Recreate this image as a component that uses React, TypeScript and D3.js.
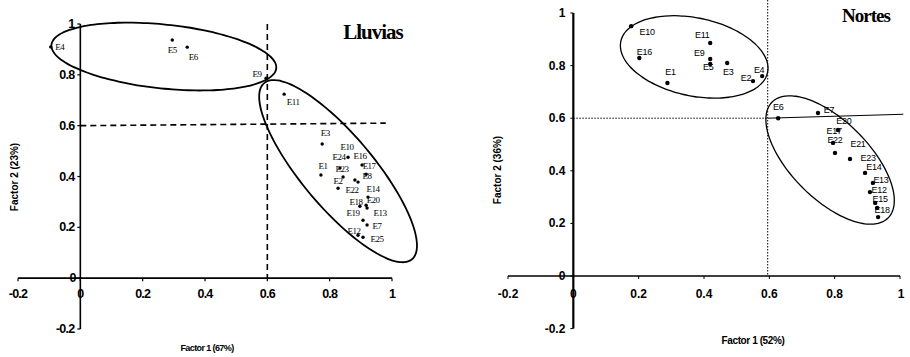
import React from "react";
import * as d3 from "d3";

// ---------- DATA ----------
const tickValues = [-0.2, 0, 0.2, 0.4, 0.6, 0.8, 1];
const leftTickLabels = ["-0.2", "0", "0.2", "0.4", "0.6", "0.8", "1"];
const rightTickLabels = ["-0.2", "0", "0.2", "0.4", "0.6", "0.8", "1"];

// Lluvias
const lluviasNames = ["E4", "E5", "E6", "E9", "E11", "E3", "E1", "E10", "E16", "E17", "E24", "E23", "E8", "E22", "E2", "E14", "E20", "E18", "E13", "E19", "E7", "E12", "E25"];
const lluviasF1 = [-0.095, 0.295, 0.343, 0.596, 0.654, 0.776, 0.772, 0.859, 0.904, 0.917, 0.833, 0.843, 0.881, 0.891, 0.827, 0.923, 0.917, 0.897, 0.92, 0.907, 0.92, 0.891, 0.907];
const lluviasF2 = [0.91, 0.937, 0.909, 0.787, 0.724, 0.528, 0.406, 0.476, 0.445, 0.409, 0.433, 0.398, 0.386, 0.378, 0.354, 0.319, 0.287, 0.283, 0.276, 0.228, 0.209, 0.169, 0.161];

// Nortes
const nortesNames = ["E10", "E16", "E1", "E11", "E9", "E5", "E3", "E2", "E4", "E6", "E7", "E20", "E17", "E22", "E21", "E23", "E14", "E13", "E12", "E15", "E18"];
const nortesF1 = [0.177, 0.202, 0.288, 0.419, 0.419, 0.419, 0.471, 0.55, 0.578, 0.627, 0.749, 0.81, 0.795, 0.801, 0.847, 0.893, 0.917, 0.908, 0.924, 0.93, 0.933];
const nortesF2 = [0.95, 0.829, 0.734, 0.886, 0.825, 0.806, 0.81, 0.741, 0.76, 0.6, 0.62, 0.555, 0.506, 0.468, 0.445, 0.392, 0.354, 0.319, 0.278, 0.259, 0.224];

// group ellipses (center in factor units)
const lluviasGroupCx = [0.268, 0.827];
const lluviasGroupCy = [0.872, 0.421];
const nortesGroupCx = [0.37, 0.786];
const nortesGroupCy = [0.833, 0.441];

// ---------- STYLE / LAYOUT ----------
const lluviasLabelOffsets: [number, number][] = [
  [9, 0], [0, 10], [6, 10], [-9, -4], [9, 8], [3, -11], [2, -9], [-1, -10], [-2, -9], [3, -8], [-1, -11], [-1, -8], [12, -4], [-6, 8], [0, -7], [5, -8], [7, -5], [-4, -4], [13, 5], [-10, -7], [10, 1], [-4, -4], [14, 2],
];
const nortesLabelOffsets: [number, number][] = [
  [16, 6], [5, -6], [3, -11], [-8, -8], [-11, -6], [-2, 3], [1, 9], [-7, -3], [-3, -6], [0, -11], [11, -3], [6, -9], [1, -12], [0, -13], [8, -15], [3, -15], [1, -16], [11, -12], [4, -13], [3, -9], [4, -7],
];
const lluviasEllipseShape = [
  { a: 113, b: 32, angle: 6 },
  { a: 115, b: 36, angle: 50 },
];
const nortesEllipseShape = [
  { a: 75, b: 39, angle: 12 },
  { a: 82, b: 39, angle: 45 },
];

function ellipsePath(cx: number, cy: number, a: number, b: number, angleDeg: number) {
  const t = (angleDeg * Math.PI) / 180;
  const pts: [number, number][] = d3.range(0, 361, 4).map((deg) => {
    const u = (deg * Math.PI) / 180;
    const x = a * Math.cos(u);
    const y = b * Math.sin(u);
    return [cx + x * Math.cos(t) - y * Math.sin(t), cy + x * Math.sin(t) + y * Math.cos(t)];
  });
  return d3.line().curve(d3.curveCardinalClosed)(pts) || "";
}

const sans = "'Liberation Sans', Arial, sans-serif";
const serif = "'Liberation Serif', 'Times New Roman', serif";

function Lluvias() {
  const x = d3.scaleLinear().domain([-0.2, 1]).range([18, 392]);
  const y = d3.scaleLinear().domain([-0.2, 1]).range([329, 24]);
  return (
    <g>
      {/* dashed reference lines */}
      <line x1={x(0.6)} x2={x(0.6)} y1={y(1.0)} y2={y(0)} stroke="#000" strokeWidth={1.6} strokeDasharray="6,4" />
      <line x1={x(0)} x2={x(0.98)} y1={y(0.6)} y2={y(0.61)} stroke="#000" strokeWidth={1.6} strokeDasharray="6,4" />
      {/* axes */}
      <line x1={x(-0.2)} x2={x(1)} y1={y(0)} y2={y(0)} stroke="#000" strokeWidth={1.6} />
      <line x1={x(0)} x2={x(0)} y1={y(1)} y2={y(-0.2)} stroke="#000" strokeWidth={1.6} />
      {tickValues.map((v, i) => (
        <g key={"xt" + i}>
          <line x1={x(v)} x2={x(v)} y1={y(0)} y2={y(0) + 3} stroke="#000" strokeWidth={1.2} />
          <text x={x(v)} y={y(0) + 20} textAnchor="middle" fontFamily={sans} fontWeight="bold" fontSize={12.5} letterSpacing={-0.8}>
            {leftTickLabels[i]}
          </text>
        </g>
      ))}
      {tickValues.map((v, i) => (
        <g key={"yt" + i}>
          <line x1={x(0) - 3} x2={x(0)} y1={y(v)} y2={y(v)} stroke="#000" strokeWidth={1.2} />
          {v !== 0 ? (
            <text x={x(0) - 6} y={y(v) + 4} textAnchor="end" fontFamily={sans} fontWeight="bold" fontSize={12.5} letterSpacing={-0.8}>
              {leftTickLabels[i]}
            </text>
          ) : (
            <text x={x(0) - 4} y={y(v) + 4} textAnchor="end" fontFamily={sans} fontWeight="bold" fontSize={12.5}>
              {"0"}
            </text>
          )}
        </g>
      ))}
      {/* ellipses */}
      {lluviasGroupCx.map((cx, i) => (
        <path key={"el" + i} d={ellipsePath(x(cx), y(lluviasGroupCy[i]), lluviasEllipseShape[i].a, lluviasEllipseShape[i].b, lluviasEllipseShape[i].angle)} fill="none" stroke="#000" strokeWidth={1.8} />
      ))}
      {/* points */}
      {lluviasNames.map((n, i) => (
        <g key={"p" + i}>
          <circle cx={x(lluviasF1[i])} cy={y(lluviasF2[i])} r={1.7} fill="#000" />
          <text
            x={x(lluviasF1[i]) + lluviasLabelOffsets[i][0]}
            y={y(lluviasF2[i]) + lluviasLabelOffsets[i][1] + 3}
            textAnchor="middle"
            fontFamily={serif}
            fontSize={9}
            letterSpacing={-0.5}
          >
            {n}
          </text>
        </g>
      ))}
      {/* titles */}
      <text x={373} y={39} textAnchor="middle" fontFamily={serif} fontWeight="bold" fontSize={21} letterSpacing={-1}>
        Lluvias
      </text>
      <text transform={`translate(18,${177}) rotate(-90)`} textAnchor="middle" fontFamily={sans} fontWeight="bold" fontSize={10}>
        Factor 2 (23%)
      </text>
      <text x={207} y={351} textAnchor="middle" fontFamily={sans} fontWeight="bold" fontSize={9} letterSpacing={-0.6}>
        Factor 1 (67%)
      </text>
    </g>
  );
}

function Nortes() {
  const x = d3.scaleLinear().domain([-0.2, 1]).range([508, 900]);
  const y = d3.scaleLinear().domain([-0.2, 1]).range([328.6, 13]);
  return (
    <g>
      {/* dotted reference lines */}
      <line x1={x(0.595)} x2={x(0.595)} y1={0} y2={y(0)} stroke="#000" strokeWidth={1} strokeDasharray="1.5,1.5" />
      <line x1={x(0)} x2={x(0.595)} y1={y(0.6)} y2={y(0.6)} stroke="#000" strokeWidth={1} strokeDasharray="1.5,1.5" />
      <line x1={x(0.595)} x2={x(1.01)} y1={y(0.6)} y2={y(0.615)} stroke="#000" strokeWidth={1} />
      {/* axes */}
      <line x1={x(-0.2)} x2={x(1)} y1={y(0)} y2={y(0)} stroke="#000" strokeWidth={1.5} />
      <line x1={x(0)} x2={x(0)} y1={y(1)} y2={y(-0.2)} stroke="#000" strokeWidth={2.2} />
      {tickValues.map((v, i) => (
        <g key={"xt" + i}>
          <line x1={x(v)} x2={x(v)} y1={y(0)} y2={y(0) + 3} stroke="#000" strokeWidth={1} />
          <text x={v === 1 ? x(v) + 1 : x(v)} y={y(0) + 22} textAnchor="middle" fontFamily={sans} fontWeight="bold" fontSize={12}>
            {rightTickLabels[i]}
          </text>
        </g>
      ))}
      {tickValues.map((v, i) => (
        <g key={"yt" + i}>
          <line x1={x(0) - 3} x2={x(0)} y1={y(v)} y2={y(v)} stroke="#000" strokeWidth={1} />
          <text x={x(0) - 8} y={y(v) + 4} textAnchor="end" fontFamily={sans} fontWeight="bold" fontSize={12}>
            {rightTickLabels[i]}
          </text>
        </g>
      ))}
      {/* ellipses */}
      {nortesGroupCx.map((cx, i) => (
        <path key={"el" + i} d={ellipsePath(x(cx), y(nortesGroupCy[i]), nortesEllipseShape[i].a, nortesEllipseShape[i].b, nortesEllipseShape[i].angle)} fill="none" stroke="#000" strokeWidth={1.3} />
      ))}
      {/* points */}
      {nortesNames.map((n, i) => (
        <g key={"p" + i}>
          <circle cx={x(nortesF1[i])} cy={y(nortesF2[i])} r={2.2} fill="#000" />
          <text
            x={x(nortesF1[i]) + nortesLabelOffsets[i][0]}
            y={y(nortesF2[i]) + nortesLabelOffsets[i][1] + 3.2}
            textAnchor="middle"
            fontFamily={sans}
            fontSize={9}
            letterSpacing={-0.3}
          >
            {n}
          </text>
        </g>
      ))}
      {/* titles */}
      <text x={866} y={22} textAnchor="middle" fontFamily={serif} fontWeight="bold" fontSize={19} letterSpacing={-1}>
        Nortes
      </text>
      <text transform={`translate(501,${170}) rotate(-90)`} textAnchor="middle" fontFamily={sans} fontWeight="bold" fontSize={10}>
        Factor 2 (36%)
      </text>
      <text x={753} y={344} textAnchor="middle" fontFamily={sans} fontWeight="bold" fontSize={10} letterSpacing={-0.4}>
        Factor 1 (52%)
      </text>
    </g>
  );
}

export default function App() {
  return (
    <svg
      width={910}
      height={357}
      viewBox="0 0 910 357"
      style={{ position: "absolute", left: 0, top: 0, background: "#fff" }}
    >
      <rect x={0} y={0} width={910} height={357} fill="#fff" />
      <Lluvias />
      <Nortes />
    </svg>
  );
}
